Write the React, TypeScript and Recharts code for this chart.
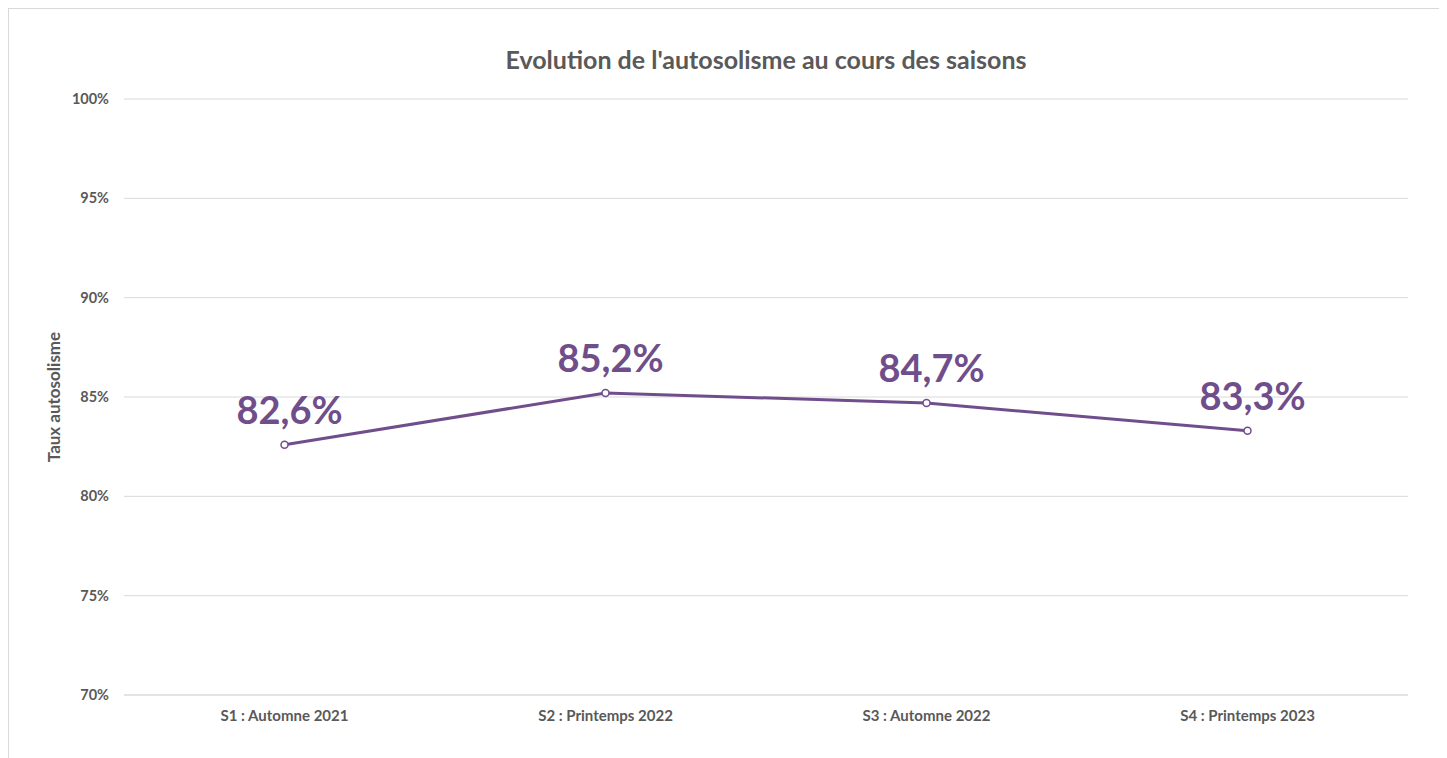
import { CartesianGrid, LabelList, Line, LineChart, XAxis, YAxis } from "recharts";

const seasons = ["S1 : Automne 2021", "S2 : Printemps 2022", "S3 : Automne 2022", "S4 : Printemps 2023"];
const rates = [82.6, 85.2, 84.7, 83.3];
const yTicks = [70, 75, 80, 85, 90, 95, 100];

const data = seasons.map((season, i) => ({ season, rate: rates[i] }));

const purple = "#704E8C";
const gray = "#595959";
const font = "Lato, 'Open Sans', sans-serif";

const fmt = (v: number) => `${v.toFixed(1).replace(".", ",")}%`;

function ValueLabel(props: any) {
  const { x, y, value } = props;
  return (
    <text x={x + 5} y={y - 21} textAnchor="middle" fill={purple} fontSize={38} fontWeight={700} fontFamily={font}>
      {fmt(value)}
    </text>
  );
}

export default function App() {
  return (
    <div
      style={{
        position: "relative",
        width: 1439,
        height: 750,
        borderTop: "1px solid #d9d9d9",
        borderLeft: "1px solid #d9d9d9",
        boxSizing: "border-box",
        fontFamily: font,
        background: "#fff",
      }}
    >
      <div
        style={{
          position: "absolute",
          top: 35,
          left: 0,
          width: 1514,
          textAlign: "center",
          fontSize: 25,
          fontWeight: 700,
          color: gray,
        }}
      >
        Evolution de l'autosolisme au cours des saisons
      </div>
      <div
        style={{
          position: "absolute",
          left: 44,
          top: 388,
          transform: "translate(-50%, -50%) rotate(-90deg)",
          whiteSpace: "nowrap",
          fontSize: 17,
          fontWeight: 700,
          color: gray,
        }}
      >
        Taux autosolisme
      </div>
      <LineChart
        width={1438}
        height={749}
        data={data}
        margin={{ top: 90, right: 39, left: 55, bottom: 23 }}
        style={{ position: "absolute", top: 0, left: 0 }}
      >
        <CartesianGrid vertical={false} stroke="#d9d9d9" strokeWidth={1} />
        <XAxis
          dataKey="season"
          scale="band"
          height={40}
          tickSize={0}
          tickMargin={15}
          axisLine={{ stroke: "#d9d9d9" }}
          tick={{ fill: gray, fontSize: 15, fontWeight: 700, fontFamily: font }}
          interval={0}
        />
        <YAxis
          type="number"
          domain={[70, 100]}
          ticks={yTicks}
          width={60}
          tickSize={0}
          tickMargin={15}
          axisLine={false}
          tickFormatter={(v: number) => `${v}%`}
          tick={{ fill: gray, fontSize: 14.5, fontWeight: 700, fontFamily: font }}
        />
        <Line
          dataKey="rate"
          stroke={purple}
          strokeWidth={3}
          dot={{ r: 3.5, fill: "#fff", stroke: purple, strokeWidth: 1.5 }}
          isAnimationActive={false}
        >
          <LabelList dataKey="rate" content={ValueLabel} />
        </Line>
      </LineChart>
    </div>
  );
}
